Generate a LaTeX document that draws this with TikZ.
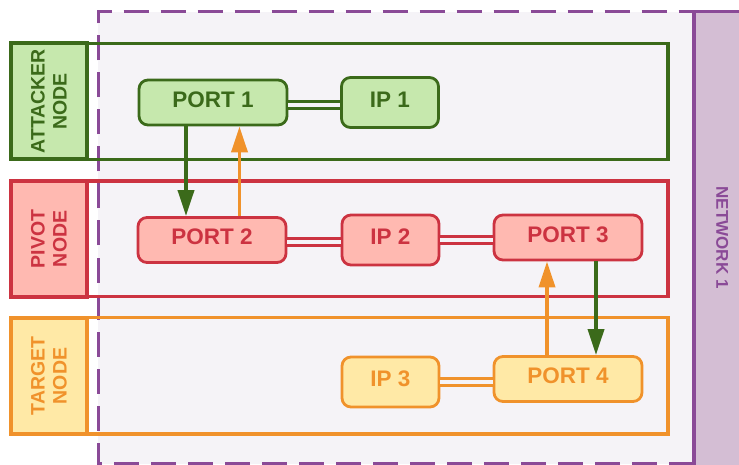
\documentclass[tikz,border=0pt]{standalone}
\usepackage{fontspec}
\setmainfont{Liberation Sans}
\usetikzlibrary{arrows.meta}

\definecolor{netpurple}{HTML}{8A4A97}
\definecolor{netfill}{HTML}{D4BED4}
\definecolor{netbg}{HTML}{F5F3F7}
\definecolor{atkline}{HTML}{3B6A1A}
\definecolor{atkfill}{HTML}{C6E8AD}
\definecolor{pivline}{HTML}{CC3341}
\definecolor{pivfill}{HTML}{FFB9B1}
\definecolor{tgtline}{HTML}{F0922B}
\definecolor{tgtfill}{HTML}{FFE9A6}

\begin{document}
\begin{tikzpicture}[x=1pt,y=-1pt,
  box/.style={draw, line width=2.8pt, rounded corners=9pt, inner sep=0pt,
    text depth=6pt, font=\bfseries\fontsize{22.5}{25}\selectfont},
  portbox/.style={box, minimum width=148pt, minimum height=45pt},
  ipbox/.style={box, minimum width=97pt, minimum height=50pt},
  labelbox/.style={draw, line width=4pt, rotate=90, inner sep=0pt, align=center,
    minimum width=116pt, minimum height=75.7pt,
    font=\bfseries\fontsize{19.5}{22}\selectfont},
  rowframe/.style={line width=3.3pt},
  link/.style={line width=3pt, double=netbg, double distance=3.4pt},
  flow/.style={line width=3.7pt, -{Triangle[length=26pt,width=16pt]}}]

\useasboundingbox (0,0) rectangle (739,465);

% network area
\fill[netbg] (98,12) rectangle (694,463.5);
\draw[netpurple, line width=3pt, dash pattern=on 25pt off 12pt]
  (694,463.5) -- (98,463.5) -- (98,12) -- (694,12);

% network bar
\fill[netfill] (694,11.7) rectangle (745,470);
\draw[netpurple, line width=3.5pt] (694,470) -- (694,11.7) -- (745,11.7);
\node[rotate=-90, text=netpurple, font=\bfseries\fontsize{17}{20}\selectfont]
  (net) at (722.3,237.5) {NETWORK 1};

% row frames
\draw[rowframe, atkline] (86.7,43.3) rectangle (668,159.3);
\draw[rowframe, pivline] (86.7,181) rectangle (668,296.7);
\draw[rowframe, tgtline] (86.7,317.7) rectangle (668,434);

% row labels
\node[labelbox, draw=atkline, fill=atkfill, text=atkline] (atk) at (48.85,101.3) {ATTACKER\\NODE};
\node[labelbox, draw=pivline, fill=pivfill, text=pivline] (piv) at (48.85,238.9) {PIVOT\\NODE};
\node[labelbox, draw=tgtline, fill=tgtfill, text=tgtline] (tgt) at (48.85,376) {TARGET\\NODE};

% ports and addresses
\node[portbox, draw=atkline, fill=atkfill, text=atkline] (p1) at (213,102.5) {PORT 1};
\node[ipbox, draw=atkline, fill=atkfill, text=atkline] (ip1) at (390,102.5) {IP 1};

\node[portbox, draw=pivline, fill=pivfill, text=pivline] (p2) at (212,240) {PORT 2};
\node[ipbox, draw=pivline, fill=pivfill, text=pivline] (ip2) at (390.5,240) {IP 2};
\node[portbox, draw=pivline, fill=pivfill, text=pivline] (p3) at (568,237.5) {PORT 3};

\node[ipbox, draw=tgtline, fill=tgtfill, text=tgtline] (ip3) at (390.5,382) {IP 3};
\node[portbox, draw=tgtline, fill=tgtfill, text=tgtline] (p4) at (568,379) {PORT 4};

% bindings
\draw[link, atkline] ([yshift=-2.5pt]p1.east) -- ([yshift=-2.5pt]ip1.west);
\draw[link, pivline] ([yshift=-2pt]p2.east) -- ([yshift=-2pt]p2.east -| ip2.west);
\draw[link, pivline] (ip2.east) -- (ip2.east -| p3.west);
\draw[link, tgtline] (ip3.east) -- (ip3.east -| p4.west);

% traffic
\coordinate (a1) at (186,0);
\coordinate (a2) at (239.5,0);
\coordinate (a3) at (547,0);
\coordinate (a4) at (596,0);
\draw[flow, atkline] (p1.south -| a1) -- (p2.north -| a1);
\draw[flow, tgtline] (p2.north -| a2) -- (p1.south -| a2);
\draw[flow, tgtline] (p4.north -| a3) -- (p3.south -| a3);
\draw[flow, atkline] (p3.south -| a4) -- (p4.north -| a4);
\end{tikzpicture}
\end{document}
